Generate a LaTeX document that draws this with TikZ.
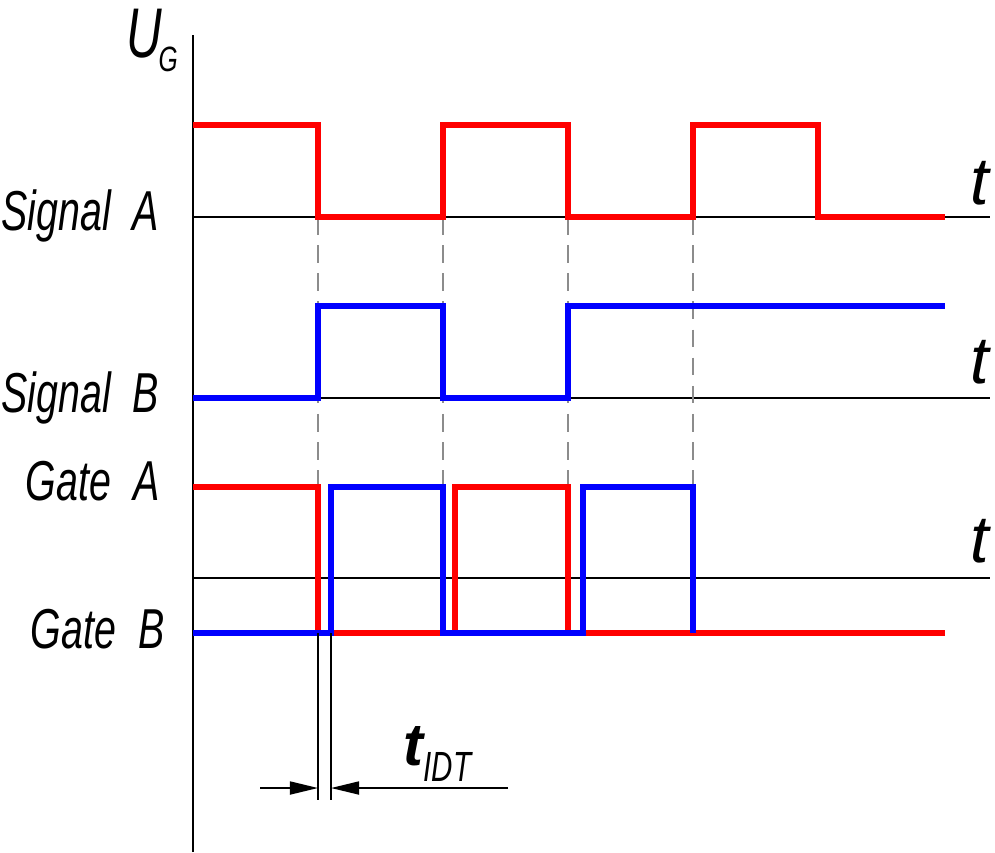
\documentclass[tikz,border=0pt]{standalone}
\usepackage{fontspec}
\setmainfont{Liberation Sans}
\newfontfamily\gost[FakeStretch=0.7]{Liberation Sans}
\usetikzlibrary{positioning,arrows.meta}

\begin{document}
\begin{tikzpicture}[
    x=0.01cm, y=-0.01cm,
    axis/.style={
        line width=0.6pt,
        draw=black
    },
    wave/.style={
        line width=1.5pt,
        line join=miter
    },
    guide/.style={
        line width=0.4pt,
        draw=black!45,
        dash pattern=on 5pt off 3pt
    },
    label/.style={
        anchor=base east,
        inner sep=0pt,
        font=\gost\itshape\fontsize{16}{18}\selectfont
    },
    tlabel/.style={
        anchor=base east,
        inner sep=0pt,
        font=\itshape\fontsize{19}{21}\selectfont
    },
    dim/.style={
        line width=0.5pt,
        draw=black
    },
    arrow/.style={
        dim,
        -{Triangle[length=2.8mm,width=1.3mm]}
    }
]
\useasboundingbox (0,0) rectangle (995,852);

% Axes
\coordinate (origin) at (193,852);
\coordinate (top) at (193,35);
\draw[axis] (origin) -- (top);
\draw[axis] (193,217) -- (990,217);
\draw[axis] (193,398) -- (990,398);
\draw[axis] (193,578) -- (990,578);

% Guide lines at the switching instants
\draw[guide] (318,217) -- (318,633);
\foreach \x in {443,568,693}
    \draw[guide] (\x,217) -- (\x,487);

% Signal A
\draw[wave, red] (193,125) -| (318,217) -- (443,217) |- (568,125)
    |- (693,217) |- (818,125) |- (945,217);

% Signal B
\draw[wave, blue] (193,398) -| (318,306) -- (443,306) |- (568,398)
    |- (945,306);

% Gate A
\draw[wave, red] (193,487) -| (318,633) -- (455,633) |- (568,487)
    |- (945,633);

% Gate B
\draw[wave, blue] (193,633) -| (331,487) -- (443,487) |- (583,633)
    |- (693,487) -- (693,633);

% Dead time dimension
\draw[dim] (318,633) -- (318,800);
\draw[dim] (331,633) -- (331,800);
\draw[arrow] (260,788) -- (318,788);
\draw[arrow] (508,788) -- (331,788);

% Labels
\node[anchor=base west, inner sep=0pt, font=\gost\itshape\fontsize{20}{22}\selectfont] (ug) at (126,58) {U};
\node[anchor=base west, inner sep=0pt, font=\gost\itshape\fontsize{10}{12}\selectfont] (ugsub) at (158,72) {G};
\node[label] (siga) at (160,231) {Signal\ \ A};
\node[label] (sigb) at (160,412) {Signal\ \ B};
\node[label] (gatea) at (160,500) {Gate\ \ A};
\node[label] (gateb) at (165,648) {Gate\ \ B};
\node[tlabel] (ta) at (990,205) {t};
\node[tlabel] (tb) at (990,383) {t};
\node[tlabel] (tc) at (990,562) {t};
\node[anchor=base west, inner sep=0pt, font=\bfseries\itshape\fontsize{17}{19}\selectfont] (tidt) at (403,765) {t};
\node[anchor=base west, inner sep=0pt, font=\gost\itshape\fontsize{12}{14}\selectfont] (tidtsub) at (423,781) {IDT};

\end{tikzpicture}
\end{document}
